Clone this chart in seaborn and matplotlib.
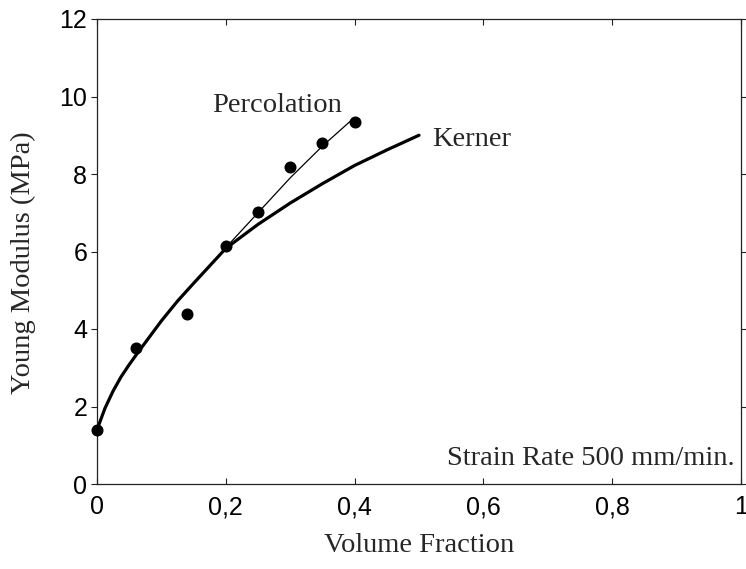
import matplotlib
matplotlib.use("Agg")
import matplotlib.pyplot as plt
import seaborn as sns
import pandas as pd

# Measured Young's modulus vs filler volume fraction
vf_measured = [0.0, 0.06, 0.14, 0.20, 0.25, 0.30, 0.35, 0.40]
modulus_measured = [1.40, 3.52, 4.39, 6.13, 7.02, 8.17, 8.81, 9.34]

# Kerner model prediction
vf_kerner = [0.0, 0.0125, 0.025, 0.0375, 0.05, 0.0625, 0.075, 0.0875, 0.10,
             0.125, 0.15, 0.175, 0.20, 0.25, 0.30, 0.35, 0.40, 0.45, 0.50]
modulus_kerner = [1.40, 1.96, 2.40, 2.77, 3.08, 3.37, 3.65, 3.93, 4.21,
                  4.72, 5.18, 5.63, 6.08, 6.70, 7.25, 7.75, 8.22, 8.62, 9.00]

# Percolation model prediction
vf_percolation = [0.20, 0.25, 0.30, 0.35, 0.40]
modulus_percolation = [6.10, 7.00, 7.90, 8.72, 9.46]

x_ticks = [0.0, 0.2, 0.4, 0.6, 0.8, 1.0]
x_tick_labels = ["0", "0,2", "0,4", "0,6", "0,8", "1"]
y_ticks = [0, 2, 4, 6, 8, 10, 12]
y_tick_labels = ["0", "2", "4", "6", "8", "10", "12"]

sns.set_theme(style="ticks")
plt.rcParams["font.family"] = ["Liberation Sans", "DejaVu Sans"]

fig = plt.figure(figsize=(7.46, 5.69), dpi=100)
ax = fig.add_axes([97 / 746, 1 - 484 / 569, 644 / 746, 465 / 569])

kerner = pd.DataFrame({"vf": vf_kerner, "E": modulus_kerner})
perc = pd.DataFrame({"vf": vf_percolation, "E": modulus_percolation})
meas = pd.DataFrame({"vf": vf_measured, "E": modulus_measured})

sns.lineplot(data=kerner, x="vf", y="E", ax=ax, color="black", linewidth=2.3,
             estimator=None, sort=False)
sns.lineplot(data=perc, x="vf", y="E", ax=ax, color="black", linewidth=0.9,
             estimator=None, sort=False)
sns.scatterplot(data=meas, x="vf", y="E", ax=ax, color="black", s=75,
                edgecolor="black", linewidth=0, zorder=5, clip_on=False)

ax.set_xlim(0, 1)
ax.set_ylim(0, 12)
ax.set_xticks(x_ticks)
ax.set_xticklabels(x_tick_labels)
ax.set_yticks(y_ticks)
ax.set_yticklabels(y_tick_labels)

for side in ["left", "right", "top", "bottom"]:
    ax.spines[side].set_visible(True)
    ax.spines[side].set_linewidth(0.9)
    ax.spines[side].set_color("#222222")

ax.tick_params(axis="both", labelsize=18, colors="#222222", labelcolor="black",
               length=4, width=0.8)
ax.tick_params(axis="y", direction="out", right=True, pad=3)
ax.tick_params(axis="x", direction="in", top=True, pad=8)

serif = ["Liberation Serif", "DejaVu Serif"]
ax.set_xlabel("Volume Fraction", fontsize=20.5, family=serif, labelpad=10)
ax.set_ylabel("Young Modulus (MPa)", fontsize=20.5, family=serif)
ax.yaxis.set_label_coords(-0.094, 0.475)

ax.text(0.28, 9.78, "Percolation", fontsize=20.5, family=serif,
        ha="center", va="center")
ax.text(0.52, 8.9, "Kerner", fontsize=20.5, family=serif,
        ha="left", va="center")
ax.text(0.99, 0.67, "Strain Rate 500 mm/min.", fontsize=20.5, family=serif,
        ha="right", va="center")

fig.savefig("out.png", dpi=100)
